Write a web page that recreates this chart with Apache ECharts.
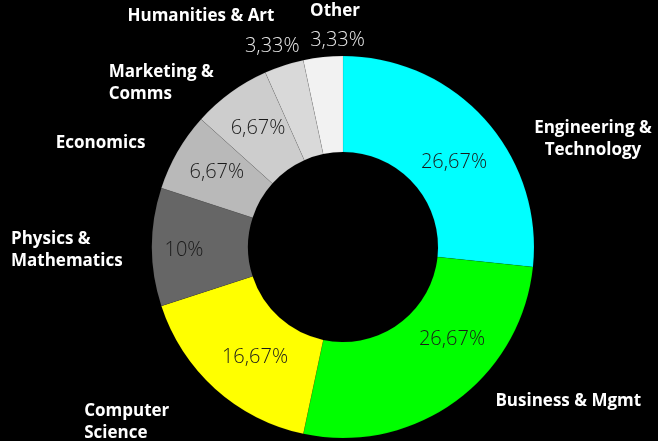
<!DOCTYPE html>
<html>
<head>
<meta charset="utf-8">
<script src="https://cdn.jsdelivr.net/npm/echarts@6/dist/echarts.min.js"></script>
<style>
html,body{margin:0;padding:0;background:#000;}
#chart{width:658px;height:441px;}
</style>
</head>
<body>
<div id="chart"></div>
<script>
// ---- data ----
const categories = ['Engineering & Technology','Business & Mgmt','Computer Science','Physics & Mathematics','Economics','Marketing & Comms','Humanities & Art','Other'];
const labelNames = ['Engineering &\nTechnology','Business & Mgmt','Computer\nScience','Physics &\nMathematics','Economics','Marketing &\nComms','Humanities & Art','Other'];
const values = [8, 8, 5, 3, 2, 2, 1, 1];
const colors = ['#00ffff','#00ff00','#ffff00','#666666','#b9b9b9','#cdcdcd','#d9d9d9','#f2f2f2'];

// ---- layout / style config ----
const CX = 343, CY = 247, R0 = 95, R1 = 191;
// name label: [radius, dx, dy, align]
const nameLayout = [
  [R1, 108, 20, 'center'],
  [R1, 113, 0, 'center'],
  [R1, -131, 33, 'left'],
  [R1, -141, 3, 'left'],
  [R1, -77, -8, 'center'],
  [R1, -122, -9, 'left'],
  [R1, -83, -49, 'center'],
  [R1, 12, -46, 'center']
];
// percent label: [radius, dx, dy, color]
const pctLayout = [
  [148, 1, 14, '#1a1a1a'],
  [148, 22, -27, '#1a1a1a'],
  [148, 11, 0, '#1a1a1a'],
  [148, -11, 3, '#1a1a1a'],
  [148, 2, -1, '#1a1a1a'],
  [148, 2, 1, '#1a1a1a'],
  [148, -25, -60, '#e6e6e6'],
  [148, 10, -60, '#e6e6e6']
];

const total = values.reduce((a, b) => a + b, 0);
function midAngle(i) {
  let before = 0;
  for (let k = 0; k < i; k++) before += values[k];
  return (90 - (before + values[i] / 2) / total * 360) * Math.PI / 180;
}
function pctText(v) {
  let s = (v / total * 100).toFixed(2);
  s = s.replace(/\.?0+$/, '');
  return s.replace('.', ',') + '%';
}

const chart = echarts.init(document.getElementById('chart'));
chart.setOption({
  backgroundColor: '#000000',
  animation: false,
  series: [
    {
      type: 'pie',
      center: [CX, CY],
      radius: [R0, R1],
      startAngle: 90,
      clockwise: true,
      avoidLabelOverlap: false,
      data: categories.map((c, i) => ({
        name: c, value: values[i],
        itemStyle: { color: colors[i] }
      })),
      itemStyle: { borderColor: 'rgba(0,0,0,0.12)', borderWidth: 0.6 },
      label: {
        show: true,
        position: 'inside',
        formatter: p => labelNames[p.dataIndex],
        color: '#ffffff',
        fontFamily: '"Open Sans", sans-serif',
        fontWeight: 'bold',
        fontSize: 17,
        lineHeight: 22
      },
      labelLine: { show: false },
      labelLayout: function (p) {
        const i = p.dataIndex, a = midAngle(i), L = nameLayout[i];
        return { x: CX + L[0] * Math.cos(a) + L[1], y: CY - L[0] * Math.sin(a) + L[2], align: L[3], verticalAlign: 'middle' };
      }
    },
    {
      type: 'pie',
      silent: true,
      center: [CX, CY],
      radius: [R0, R1],
      startAngle: 90,
      clockwise: true,
      avoidLabelOverlap: false,
      data: categories.map((c, i) => ({
        name: c, value: values[i],
        itemStyle: { color: 'rgba(0,0,0,0)' },
        label: { color: pctLayout[i][3] }
      })),
      label: {
        show: true,
        position: 'inside',
        formatter: p => pctText(p.value),
        fontFamily: '"Open Sans", sans-serif',
        fontWeight: 300,
        fontSize: 20
      },
      labelLine: { show: false },
      labelLayout: function (p) {
        const i = p.dataIndex, a = midAngle(i), L = pctLayout[i];
        return { x: CX + L[0] * Math.cos(a) + L[1], y: CY - L[0] * Math.sin(a) + L[2], align: 'center', verticalAlign: 'middle' };
      }
    }
  ]
});
</script>
</body>
</html>
